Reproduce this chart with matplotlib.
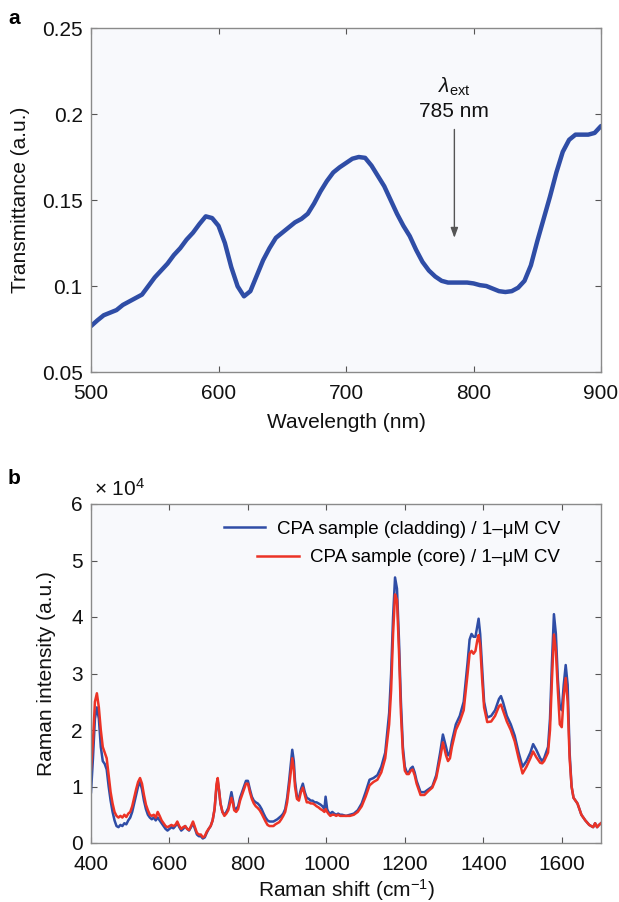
import matplotlib
matplotlib.use("Agg")
import matplotlib.pyplot as plt
from matplotlib.ticker import FuncFormatter

plt.rcParams['font.family'] = ['Liberation Sans', 'DejaVu Sans']
plt.rcParams['mathtext.fontset'] = 'custom'
plt.rcParams['mathtext.rm'] = 'Liberation Sans'
plt.rcParams['mathtext.it'] = 'Liberation Sans:italic'

# ---- Panel a: transmittance spectrum ----
wavelength = [500, 505, 510, 515, 520, 525, 530, 535, 540, 545, 550, 555, 560, 565, 570,
              575, 580, 585, 590, 595, 600, 605, 610, 615, 620, 625, 630, 635, 640, 645,
              650, 655, 660, 665, 670, 675, 680, 685, 690, 695, 700, 705, 710, 715, 720,
              725, 730, 735, 740, 745, 750, 755, 760, 765, 770, 775, 780, 785, 790, 795,
              800, 805, 810, 815, 820, 825, 830, 835, 840, 845, 850, 855, 860, 865, 870,
              875, 880, 885, 890, 895, 900]
transmittance = [0.0767, 0.080, 0.083, 0.0845, 0.086, 0.089, 0.091, 0.093, 0.095, 0.100, 0.105,
                 0.109, 0.113, 0.118, 0.122, 0.127, 0.131, 0.136, 0.1405, 0.1395, 0.135, 0.125,
                 0.111, 0.0998, 0.094, 0.097, 0.106, 0.115, 0.122, 0.128, 0.131, 0.134, 0.137,
                 0.139, 0.142, 0.148, 0.155, 0.161, 0.166, 0.169, 0.1715, 0.174, 0.175, 0.1745,
                 0.170, 0.164, 0.158, 0.150, 0.142, 0.135, 0.129, 0.121, 0.114, 0.109, 0.1055,
                 0.103, 0.102, 0.102, 0.102, 0.102, 0.1015, 0.1005, 0.100, 0.0985, 0.097, 0.0965,
                 0.097, 0.099, 0.103, 0.112, 0.126, 0.139, 0.152, 0.166, 0.178, 0.185, 0.188,
                 0.188, 0.188, 0.189, 0.193]

# ---- Panel b: Raman spectra (intensity in units of 1e4) ----
raman_shift = [400, 405, 410, 415, 420, 425, 430, 435, 440, 445, 450, 455, 460, 465, 470, 475,
               480, 485, 490, 495, 500, 505, 510, 515, 520, 525, 530, 535, 540, 545, 550, 555,
               560, 565, 570, 575, 580, 585, 590, 595, 600, 605, 610, 615, 620, 625, 630, 635,
               640, 645, 650, 655, 660, 665, 670, 675, 680, 685, 690, 695, 700, 705, 710, 715,
               720, 723, 727, 730, 735, 740, 745, 750, 755, 758, 762, 765, 770, 775, 780, 785,
               790, 795, 800, 805, 810, 815, 820, 825, 830, 835, 840, 845, 850, 855, 860, 865,
               870, 875, 880, 885, 890, 895, 900, 905, 910, 913, 917, 920, 925, 930, 935, 940,
               945, 950, 955, 960, 965, 970, 975, 980, 985, 990, 995, 998, 1002, 1005, 1010,
               1015, 1020, 1025, 1030, 1035, 1040, 1050, 1060, 1070, 1080, 1090, 1100, 1110,
               1120, 1130, 1140, 1150, 1160, 1165, 1170, 1175, 1180, 1185, 1190, 1195, 1200,
               1205, 1210, 1215, 1220, 1225, 1230, 1240, 1250, 1260, 1270, 1280, 1290, 1297,
               1305, 1310, 1315, 1320, 1330, 1340, 1350, 1360, 1365, 1370, 1375, 1380, 1385,
               1388, 1392, 1397, 1402, 1410, 1420, 1430, 1440, 1445, 1450, 1460, 1470, 1480,
               1490, 1500, 1510, 1520, 1527, 1535, 1545, 1550, 1555, 1565, 1570, 1575, 1580,
               1585, 1590, 1595, 1600, 1605, 1610, 1615, 1620, 1625, 1630, 1640, 1650, 1660,
               1670, 1680, 1685, 1690, 1695, 1700]
cladding = [0.9, 1.5, 2.2, 2.4, 2.2, 1.7, 1.45, 1.4, 1.3, 1.0, 0.75, 0.55, 0.4, 0.3, 0.28, 0.32,
            0.3, 0.35, 0.33, 0.4, 0.45, 0.55, 0.7, 0.85, 1.0, 1.08, 0.95, 0.75, 0.6, 0.5, 0.45,
            0.42, 0.45, 0.4, 0.45, 0.4, 0.35, 0.3, 0.25, 0.22, 0.25, 0.28, 0.26, 0.3, 0.35, 0.28,
            0.22, 0.25, 0.3, 0.25, 0.22, 0.28, 0.35, 0.25, 0.15, 0.12, 0.12, 0.08, 0.1, 0.18,
            0.25, 0.3, 0.4, 0.6, 1.0, 1.1, 0.9, 0.7, 0.55, 0.5, 0.55, 0.62, 0.8, 0.9, 0.75, 0.62,
            0.6, 0.65, 0.8, 0.9, 1.0, 1.1, 1.1, 0.95, 0.82, 0.75, 0.72, 0.7, 0.66, 0.6, 0.52,
            0.45, 0.4, 0.38, 0.38, 0.38, 0.4, 0.42, 0.45, 0.48, 0.52, 0.6, 0.8, 1.1, 1.45, 1.65,
            1.45, 1.1, 0.82, 0.8, 0.95, 1.05, 0.9, 0.8, 0.78, 0.75, 0.75, 0.72, 0.72, 0.7, 0.68,
            0.65, 0.6, 0.82, 0.6, 0.55, 0.52, 0.55, 0.52, 0.5, 0.52, 0.5, 0.5, 0.48, 0.5, 0.52,
            0.58, 0.7, 0.9, 1.12, 1.15, 1.2, 1.35, 1.6, 2.3, 3.0, 4.0, 4.7, 4.5, 3.6, 2.5, 1.7,
            1.35, 1.25, 1.25, 1.32, 1.35, 1.25, 1.1, 0.9, 0.9, 0.95, 1.0, 1.2, 1.6, 1.92, 1.7,
            1.55, 1.6, 1.8, 2.1, 2.25, 2.5, 3.2, 3.6, 3.7, 3.65, 3.65, 3.85, 3.97, 3.7, 3.1, 2.5,
            2.22, 2.25, 2.35, 2.55, 2.6, 2.5, 2.25, 2.1, 1.9, 1.6, 1.35, 1.45, 1.6, 1.75, 1.65,
            1.5, 1.45, 1.5, 1.7, 2.2, 3.2, 4.05, 3.7, 2.9, 2.4, 2.35, 2.8, 3.15, 2.8, 1.6, 1.0,
            0.8, 0.7, 0.5, 0.4, 0.32, 0.28, 0.35, 0.28, 0.32, 0.35]
core = [1.3, 1.8, 2.5, 2.65, 2.4, 2.0, 1.7, 1.6, 1.5, 1.2, 0.9, 0.7, 0.55, 0.48, 0.45, 0.48,
        0.45, 0.5, 0.46, 0.52, 0.55, 0.65, 0.8, 0.95, 1.08, 1.15, 1.05, 0.85, 0.68, 0.58, 0.5,
        0.48, 0.5, 0.45, 0.55, 0.48, 0.4, 0.35, 0.3, 0.28, 0.3, 0.32, 0.3, 0.32, 0.38, 0.3,
        0.25, 0.28, 0.3, 0.25, 0.23, 0.3, 0.38, 0.28, 0.18, 0.15, 0.15, 0.1, 0.12, 0.2, 0.25,
        0.3, 0.4, 0.6, 1.05, 1.15, 0.9, 0.7, 0.55, 0.48, 0.52, 0.58, 0.72, 0.8, 0.7, 0.58,
        0.55, 0.6, 0.75, 0.85, 0.95, 1.05, 1.05, 0.9, 0.78, 0.7, 0.65, 0.62, 0.58, 0.52, 0.45,
        0.38, 0.32, 0.3, 0.3, 0.3, 0.33, 0.35, 0.37, 0.42, 0.48, 0.55, 0.72, 1.0, 1.3, 1.5,
        1.3, 1.0, 0.78, 0.75, 0.9, 0.98, 0.85, 0.72, 0.72, 0.7, 0.7, 0.68, 0.65, 0.63, 0.6,
        0.58, 0.55, 0.6, 0.55, 0.52, 0.48, 0.5, 0.5, 0.48, 0.5, 0.48, 0.48, 0.48, 0.48, 0.5,
        0.55, 0.65, 0.82, 1.02, 1.08, 1.12, 1.25, 1.5, 2.1, 2.7, 3.7, 4.4, 4.3, 3.4, 2.3, 1.6,
        1.28, 1.22, 1.22, 1.28, 1.3, 1.2, 1.05, 0.85, 0.85, 0.92, 0.98, 1.15, 1.5, 1.78, 1.55,
        1.45, 1.5, 1.7, 2.0, 2.15, 2.35, 3.0, 3.35, 3.4, 3.35, 3.4, 3.6, 3.68, 3.5, 2.9, 2.4,
        2.14, 2.15, 2.25, 2.42, 2.45, 2.35, 2.15, 2.0, 1.8, 1.5, 1.23, 1.35, 1.5, 1.62, 1.52,
        1.42, 1.41, 1.45, 1.6, 2.0, 2.9, 3.69, 3.4, 2.7, 2.1, 2.05, 2.6, 2.92, 2.5, 1.5, 1.0,
        0.8, 0.7, 0.5, 0.4, 0.32, 0.28, 0.35, 0.28, 0.32, 0.35]

label_cladding = 'CPA sample (cladding) / 1\u2013\u03bcM CV'
label_core = 'CPA sample (core) / 1\u2013\u03bcM CV'

BLUE = '#2F4DA6'
RED = '#EC3326'
FACE = '#F8F9FC'
SPINE = '#8A8A8A'
FS = 15

W, H = 619, 902
fig = plt.figure(figsize=(W / 100, H / 100), dpi=100)
ax1 = fig.add_axes([91 / W, 1 - 372 / H, 510 / W, 344 / H])
ax2 = fig.add_axes([91 / W, 1 - 843 / H, 510 / W, 339 / H])


def style(ax):
    ax.set_facecolor(FACE)
    for s in ax.spines.values():
        s.set_color(SPINE)
        s.set_linewidth(1.0)
    ax.tick_params(direction='in', length=4, width=0.8, color='#555555',
                   top=True, right=True, labelsize=FS, labelcolor='#111111')
    ax.tick_params(axis='x', pad=8.5)
    ax.tick_params(axis='y', pad=6)


fmt = FuncFormatter(lambda v, p: '%g' % round(v, 4))

# Panel a
style(ax1)
ax1.plot(wavelength, transmittance, color=BLUE, lw=3.2, solid_capstyle='round')
ax1.set_xlim(500, 900)
ax1.set_ylim(0.05, 0.25)
ax1.set_xticks([500, 600, 700, 800, 900])
ax1.set_yticks([0.05, 0.1, 0.15, 0.2, 0.25])
ax1.yaxis.set_major_formatter(fmt)
ax1.set_xlabel('Wavelength (nm)', fontsize=FS, color='#111111')
ax1.set_ylabel('Transmittance (a.u.)', fontsize=FS, color='#111111')
ax1.xaxis.set_label_coords(0.5, -0.118)
ax1.yaxis.set_label_coords(-0.12, 0.5)
ax1.annotate('', xy=(785, 0.128), xytext=(785, 0.191),
             arrowprops=dict(arrowstyle='-|>,head_length=0.6,head_width=0.22',
                             color='#555555', lw=1.0, shrinkA=0, shrinkB=0))
ax1.text(785, 0.2015, '785 nm', ha='center', va='center', fontsize=FS, color='#111111')
ax1.text(785, 0.2155, r'$\mathit{\lambda}_{\mathrm{ext}}$', ha='center', va='center',
         fontsize=FS, color='#111111')
fig.text(8 / W, 1 - 18 / H, 'a', fontsize=15, fontweight='bold', va='center')

# Panel b
style(ax2)
l1, = ax2.plot(raman_shift, cladding, color=BLUE, lw=1.8)
l2, = ax2.plot(raman_shift, core, color=RED, lw=1.8)
ax2.set_xlim(400, 1700)
ax2.set_ylim(0, 6)
ax2.set_xticks([400, 600, 800, 1000, 1200, 1400, 1600])
ax2.set_yticks([0, 1, 2, 3, 4, 5, 6])
ax2.set_xlabel('Raman shift (cm$^{-1}$)', fontsize=FS, color='#111111')
ax2.set_ylabel('Raman intensity (a.u.)', fontsize=FS, color='#111111')
ax2.xaxis.set_label_coords(0.5, -0.1)
ax2.yaxis.set_label_coords(-0.069, 0.5)
ax2.text(0.005, 1.012, '\u00d7 10$^{4}$', transform=ax2.transAxes, fontsize=FS,
         ha='left', va='bottom', color='#111111')

leg1 = ax2.legend([l1], [label_cladding], loc='upper right', frameon=False,
                  fontsize=13.5, bbox_to_anchor=(0.945, 0.99), handlelength=2.2,
                  handletextpad=0.6, borderaxespad=0.3)
ax2.add_artist(leg1)
ax2.legend([l2], [label_core], loc='upper right', frameon=False,
           fontsize=13.5, bbox_to_anchor=(0.945, 0.905), handlelength=2.2,
           handletextpad=0.6, borderaxespad=0.3)
fig.text(8 / W, 1 - 478 / H, 'b', fontsize=15, fontweight='bold', va='center')

fig.savefig('out.png', dpi=100, facecolor='white')
